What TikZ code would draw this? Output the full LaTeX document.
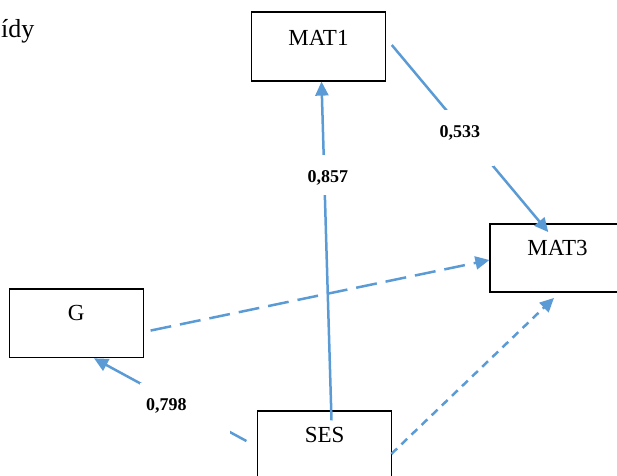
\documentclass[tikz,border=0pt]{standalone}
\usepackage{fontspec}
\setmainfont{Liberation Serif}
\usetikzlibrary{arrows.meta}
\definecolor{lineblue}{HTML}{5B9BD5}
\begin{document}
\begin{tikzpicture}[x=1pt,y=-1pt,
  box/.style={draw=black, line width=1.2pt, rectangle, inner sep=0pt, minimum width=134pt, font=\fontsize{23}{23}\selectfont},
  conn/.style={draw=lineblue, line width=2.5pt},
  tip/.style={-{Triangle[length=14pt,width=13pt]}},
  longdash/.style={dash pattern=on 21pt off 9pt},
  shortdash/.style={dash pattern=on 8pt off 6pt},
  lbl/.style={fill=white, inner sep=0pt, align=left, font=\fontsize{18}{18}\selectfont\bfseries}]
\useasboundingbox (0,0) rectangle (617,475);
\clip (0,0) rectangle (617,475);

\node[anchor=base west, inner sep=0pt, font=\fontsize{26}{26}\selectfont] (cut) at (1,37.3) {ídy};

\node[box, text height=33pt, text depth=36pt] (MAT1) at (318.5,46.5) {MAT1};
\node[box, minimum width=135pt, text height=31pt, text depth=37pt] (MAT3) at (557.5,258) {MAT3};
\node[box, text height=31.7pt, text depth=37pt] (G) at (76.3,323.35) {G};
\node[box, text height=31.3pt, text depth=37.7pt] (SES) at (324.7,445.5) {SES};

% dashed connectors
\draw[conn, longdash, tip] ([xshift=6.7pt,yshift=-7.2pt]G.east) -- ([yshift=-2pt]MAT3.west);
\draw[conn, shortdash, tip] ([xshift=-1pt,yshift=-8.5pt]SES.east) -- ([xshift=-3.5pt,yshift=-5.3pt]MAT3.south);

% solid connectors
\draw[conn, tip] ([xshift=6.8pt,yshift=-10pt]SES.north) -- ([xshift=3pt]MAT1.south);
\draw[conn, tip] ([xshift=5.7pt,yshift=1.5pt]MAT1.east) -- ([xshift=-9.2pt,yshift=-8.7pt]MAT3.north);
\draw[conn, tip] ([xshift=-10.7pt,yshift=4.5pt]SES.west) -- ([xshift=17.7pt]G.south);

% labels
\node[lbl, text width=44pt, text height=27.7pt, text depth=12.3pt] (l857) at (328,175) {\hspace*{1.5pt}0,857};
\node[lbl, text width=56pt, text height=27.3pt, text depth=28.7pt] (l533) at (466,138) {\hspace*{1.5pt}0,533};
\node[lbl, text width=90pt, text height=27.7pt, text depth=24.3pt] (l798) at (185,409) {\hspace*{6pt}0,798};
\end{tikzpicture}
\end{document}
